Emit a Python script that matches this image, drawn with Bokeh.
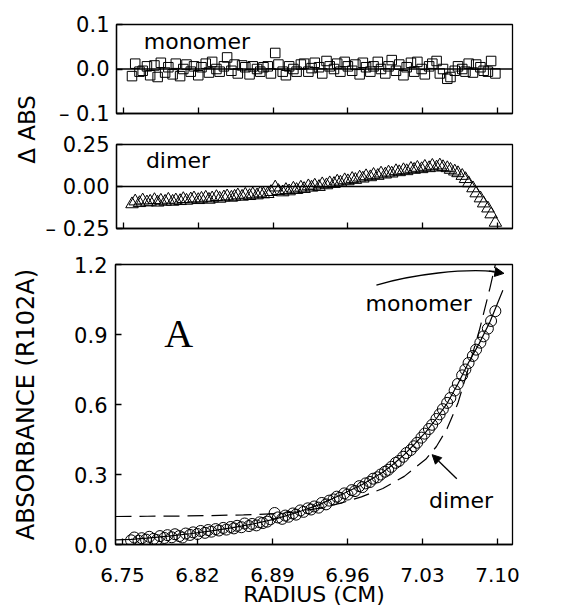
import math
from bokeh.plotting import figure
from bokeh.models import (Range1d, FixedTicker, Span, Label, Arrow, NormalHead,
                          CustomJSTickFormatter, PrintfTickFormatter)
from bokeh.layouts import column, row
from bokeh.embed import file_html
from bokeh.resources import INLINE

# ---------------- data ----------------
radius = [
    6.758, 6.761, 6.765, 6.768, 6.772, 6.775, 6.779, 6.782, 6.785, 6.789,
    6.792, 6.796, 6.799, 6.803, 6.806, 6.809, 6.813, 6.816, 6.820, 6.823,
    6.827, 6.830, 6.833, 6.837, 6.840, 6.844, 6.847, 6.851, 6.854, 6.857,
    6.861, 6.864, 6.868, 6.871, 6.875, 6.878, 6.881, 6.885, 6.888, 6.892,
    6.895, 6.899, 6.902, 6.905, 6.909, 6.912, 6.916, 6.919, 6.923, 6.926,
    6.929, 6.933, 6.936, 6.940, 6.943, 6.947, 6.950, 6.953, 6.957, 6.960,
    6.964, 6.967, 6.971, 6.974, 6.977, 6.981, 6.984, 6.988, 6.991, 6.995,
    6.998, 7.001, 7.005, 7.008, 7.012, 7.015, 7.019, 7.022, 7.025, 7.029,
    7.032, 7.036, 7.039, 7.043, 7.046, 7.049, 7.053, 7.056, 7.060, 7.063,
    7.067, 7.070, 7.073, 7.077, 7.080, 7.084, 7.087, 7.091, 7.094, 7.098,
]

absorbance = [
    0.018, 0.030, 0.016, 0.027, 0.021, 0.033, 0.024, 0.019, 0.036, 0.028,
    0.040, 0.031, 0.044, 0.036, 0.030, 0.047, 0.041, 0.052, 0.045, 0.058,
    0.050, 0.062, 0.055, 0.066, 0.060, 0.071, 0.064, 0.075, 0.069, 0.080,
    0.074, 0.090, 0.079, 0.088, 0.082, 0.095, 0.092, 0.098, 0.108, 0.135,
    0.116, 0.110, 0.124, 0.119, 0.133, 0.128, 0.146, 0.140, 0.155, 0.150,
    0.163, 0.158, 0.178, 0.172, 0.188, 0.193, 0.205, 0.200, 0.219, 0.214,
    0.233, 0.229, 0.250, 0.246, 0.262, 0.268, 0.282, 0.288, 0.300, 0.312,
    0.320, 0.333, 0.350, 0.358, 0.376, 0.392, 0.405, 0.421, 0.436, 0.458,
    0.475, 0.495, 0.513, 0.538, 0.558, 0.580, 0.607, 0.628, 0.660, 0.688,
    0.725, 0.750, 0.778, 0.808, 0.835, 0.865, 0.892, 0.925, 0.958, 1.000,
]

resid_monomer = [
    -0.016, 0.012, -0.006, -0.004, 0.006, -0.014, 0.008, -0.018, 0.014, -0.008,
    0.004, -0.012, 0.012, -0.016, 0.000, 0.010, -0.006, 0.006, -0.014, 0.004,
    0.012, -0.008, 0.016, 0.000, -0.006, 0.006, 0.026, -0.004, 0.010, -0.010,
    0.008, 0.004, -0.012, 0.006, 0.000, -0.006, 0.004, 0.006, -0.010, 0.036,
    0.010, -0.006, -0.014, 0.006, 0.000, -0.006, 0.010, 0.012, -0.006, 0.002,
    0.014, 0.004, -0.010, 0.018, 0.006, 0.000, 0.012, -0.006, 0.016, 0.006,
    -0.004, 0.010, -0.012, 0.014, 0.004, -0.006, 0.006, 0.016, 0.000, -0.010,
    0.006, 0.020, -0.004, 0.010, -0.014, 0.004, 0.014, -0.006, 0.016, 0.000,
    -0.012, 0.006, 0.012, 0.018, -0.010, 0.000, -0.022, -0.018, -0.004, 0.006,
    0.000, -0.006, 0.012, -0.008, 0.010, 0.004, -0.004, -0.006, 0.018, -0.010,
]

resid_dimer = [
    -0.105, -0.088, -0.098, -0.082, -0.094, -0.090, -0.080, -0.095, -0.084, -0.090,
    -0.078, -0.090, -0.082, -0.086, -0.074, -0.084, -0.076, -0.070, -0.080, -0.072,
    -0.066, -0.078, -0.070, -0.062, -0.072, -0.064, -0.058, -0.066, -0.060, -0.052,
    -0.060, -0.048, -0.056, -0.046, -0.052, -0.040, -0.046, -0.044, -0.032, -0.005,
    -0.026, -0.034, -0.020, -0.028, -0.012, -0.020, -0.006, -0.014, 0.002, -0.006,
    0.006, -0.002, 0.014, 0.008, 0.020, 0.016, 0.030, 0.024, 0.038, 0.032,
    0.046, 0.040, 0.054, 0.048, 0.062, 0.056, 0.070, 0.064, 0.078, 0.072,
    0.084, 0.078, 0.092, 0.086, 0.098, 0.092, 0.106, 0.100, 0.112, 0.104,
    0.118, 0.110, 0.124, 0.114, 0.126, 0.116, 0.110, 0.100, 0.090, 0.080,
    0.064, 0.045, 0.020, -0.010, -0.040, -0.070, -0.100, -0.130, -0.165, -0.215,
]

monomer_fit_r = [6.7435, 6.758, 6.773, 6.793, 6.813, 6.833, 6.853, 6.873, 6.893,
                 6.913, 6.933, 6.953, 6.973, 6.993, 7.003, 7.013, 7.023, 7.033,
                 7.043, 7.053, 7.063, 7.073, 7.083, 7.093, 7.105]
monomer_fit_a = [0.020, 0.022, 0.027, 0.036, 0.046, 0.058, 0.072, 0.089, 0.110,
                 0.137, 0.170, 0.211, 0.255, 0.310, 0.345, 0.385, 0.432, 0.482,
                 0.540, 0.605, 0.688, 0.780, 0.862, 0.955, 1.090]

dimer_fit_r = [6.7435, 6.773, 6.803, 6.833, 6.863, 6.893, 6.913, 6.933, 6.953,
               6.973, 6.993, 7.013, 7.033, 7.043, 7.053, 7.063, 7.073, 7.083,
               7.093, 7.103]
dimer_fit_a = [0.120, 0.121, 0.122, 0.124, 0.127, 0.132, 0.140, 0.155, 0.176,
               0.204, 0.240, 0.292, 0.365, 0.420, 0.497, 0.605, 0.758, 0.917,
               1.100, 1.300]

x_ticks = [6.75, 6.82, 6.89, 6.96, 7.03, 7.10]
top_ticks = [-0.1, 0.0, 0.1]
top_tick_labels = ["\u2013 0.1", "0.0", "0.1"]
mid_ticks = [-0.25, 0.0, 0.25]
mid_tick_labels = ["\u2013 0.25", "0.00", "0.25"]
bot_ticks = [0.0, 0.3, 0.6, 0.9, 1.2]

FONT = "DejaVu Sans"
TICK_SIZE = "21px"
W = 564
LEFT = 115
RIGHT = 52
LABEL_COL = 42

x_range = Range1d(6.7435, 7.114)


def label_formatter(tvals, tlabels):
    return CustomJSTickFormatter(
        args=dict(tvals=tvals, tlabels=tlabels),
        code="const i = tvals.findIndex(t => Math.abs(t - tick) < 1e-9);"
             " return i >= 0 ? tlabels[i] : '';")


def make_fig(width, left, height, y_range, top, bottom, show_x_labels):
    p = figure(width=width, height=height, x_range=x_range, y_range=y_range,
               output_backend="svg", toolbar_location=None,
               min_border_left=left, min_border_right=RIGHT,
               min_border_top=top, min_border_bottom=bottom)
    p.grid.visible = False
    p.outline_line_color = "black"
    p.outline_line_width = 1.3
    p.background_fill_color = "white"
    p.border_fill_color = "white"
    for ax in p.axis:
        ax.axis_line_color = "black"
        ax.axis_line_width = 1.3
        ax.major_tick_in = 6
        ax.major_tick_out = 0
        ax.major_tick_line_color = "black"
        ax.major_tick_line_width = 1.3
        ax.minor_tick_line_color = None
        ax.major_label_text_font = FONT
        ax.major_label_text_font_size = TICK_SIZE
        ax.major_label_text_color = "black"
        ax.major_label_standoff = 7
        ax.axis_label_text_font = FONT
        ax.axis_label_text_font_style = "normal"
        ax.axis_label_text_color = "black"
    p.xaxis.ticker = FixedTicker(ticks=x_ticks)
    if show_x_labels:
        p.xaxis.formatter = PrintfTickFormatter(format="%.2f")
    else:
        p.xaxis.formatter = CustomJSTickFormatter(code="return '';")
        p.xaxis.major_label_text_font_size = "1px"
        p.xaxis.major_label_standoff = 0
    return p


# ---------------- top panel: monomer residuals ----------------
p1 = make_fig(W - LABEL_COL, LEFT - LABEL_COL, 128, Range1d(-0.1, 0.1), 24, 15, False)
p1.yaxis.ticker = FixedTicker(ticks=top_ticks)
p1.yaxis.formatter = label_formatter(top_ticks, top_tick_labels)
p1.add_layout(Span(location=0, dimension="width", line_color="black", line_width=1.3))
p1.scatter(radius, resid_monomer, marker="square", size=9.5,
           fill_color=None, line_color="black", line_width=1)
p1.add_layout(Label(x=6.769, y=0.062, text="monomer", text_font=FONT,
                    text_font_size="22px", text_color="black",
                    text_baseline="alphabetic"))

# ---------------- middle panel: dimer residuals ----------------
p2 = make_fig(W - LABEL_COL, LEFT - LABEL_COL, 118, Range1d(-0.25, 0.25), 16, 18, False)
p2.yaxis.ticker = FixedTicker(ticks=mid_ticks)
p2.yaxis.formatter = label_formatter(mid_ticks, mid_tick_labels)
p2.add_layout(Span(location=0, dimension="width", line_color="black", line_width=1.3))
p2.scatter(radius, resid_dimer, marker="triangle", size=12.5,
           fill_color=None, line_color="black", line_width=1)
p2.add_layout(Label(x=6.771, y=0.155, text="dimer", text_font=FONT,
                    text_font_size="22px", text_color="black",
                    text_baseline="alphabetic"))

# shared y-axis title of the two residual panels, in its own narrow column
ylab = figure(width=LABEL_COL, height=246, x_range=Range1d(0, 1), y_range=Range1d(0, 1),
              x_axis_type=None, y_axis_type=None, output_backend="svg",
              toolbar_location=None, min_border=0)
ylab.outline_line_color = None
ylab.grid.visible = False
ylab.add_layout(Label(x=0.62, y=0.476, text="\u0394 ABS", angle=math.pi / 2,
                      text_font=FONT, text_font_size="23px", text_color="black",
                      text_align="center", text_baseline="middle"))

# ---------------- bottom panel: absorbance ----------------
p3 = make_fig(W, LEFT, 363, Range1d(0, 1.2), 18, 65, True)
p3.yaxis.ticker = FixedTicker(ticks=bot_ticks)
p3.yaxis.formatter = PrintfTickFormatter(format="%.1f")
p3.yaxis.major_label_standoff = 8
p3.yaxis.axis_label = "ABSORBANCE (R102A)"
p3.yaxis.axis_label_text_font_size = "24px"
p3.yaxis.axis_label_standoff = 31
p3.xaxis.major_label_text_font_size = "20px"
p3.xaxis.major_label_standoff = 23
p3.xaxis.axis_label = "RADIUS (CM)"
p3.xaxis.axis_label_text_font_size = "22px"
p3.xaxis.axis_label_standoff = -3

p3.line(monomer_fit_r, monomer_fit_a, line_color="black", line_width=1.2)
p3.line(dimer_fit_r, dimer_fit_a, line_color="black", line_width=1.2,
        line_dash="16 8")
p3.scatter(radius, absorbance, marker="circle", size=11,
           fill_color=None, line_color="black", line_width=1)

p3.add_layout(Label(x=6.789, y=0.905, text="A", text_font="Liberation Serif",
                    text_font_size="40px", text_color="black",
                    text_baseline="alphabetic"))
p3.add_layout(Label(x=7.0265, y=1.035, text="monomer", text_font=FONT,
                    text_font_size="22px", text_color="black",
                    text_align="center", text_baseline="alphabetic"))
p3.add_layout(Label(x=7.066, y=0.19, text="dimer", text_font=FONT,
                    text_font_size="22px", text_color="black",
                    text_align="center", text_baseline="alphabetic"))

# curved arrow to the monomer fit
p3.bezier(x0=[6.987], y0=[1.112], x1=[7.097], y1=[1.170],
          cx0=[7.023], cy0=[1.160], cx1=[7.068], cy1=[1.182],
          line_color="black", line_width=1.3)
p3.add_layout(Arrow(end=NormalHead(size=9, fill_color="black", line_color="black"),
                    x_start=7.092, y_start=1.172, x_end=7.106, y_end=1.162,
                    line_color="black", line_width=1.3))
# straight arrow to the dimer fit
p3.add_layout(Arrow(end=NormalHead(size=9, fill_color="black", line_color="black"),
                    x_start=7.062, y_start=0.282, x_end=7.039, y_end=0.385,
                    line_color="black", line_width=1.3))

layout = column(row(ylab, column(p1, p2, spacing=0), spacing=0), p3, spacing=0)

with open("out.html", "w") as f:
    f.write(file_html(layout, INLINE))
